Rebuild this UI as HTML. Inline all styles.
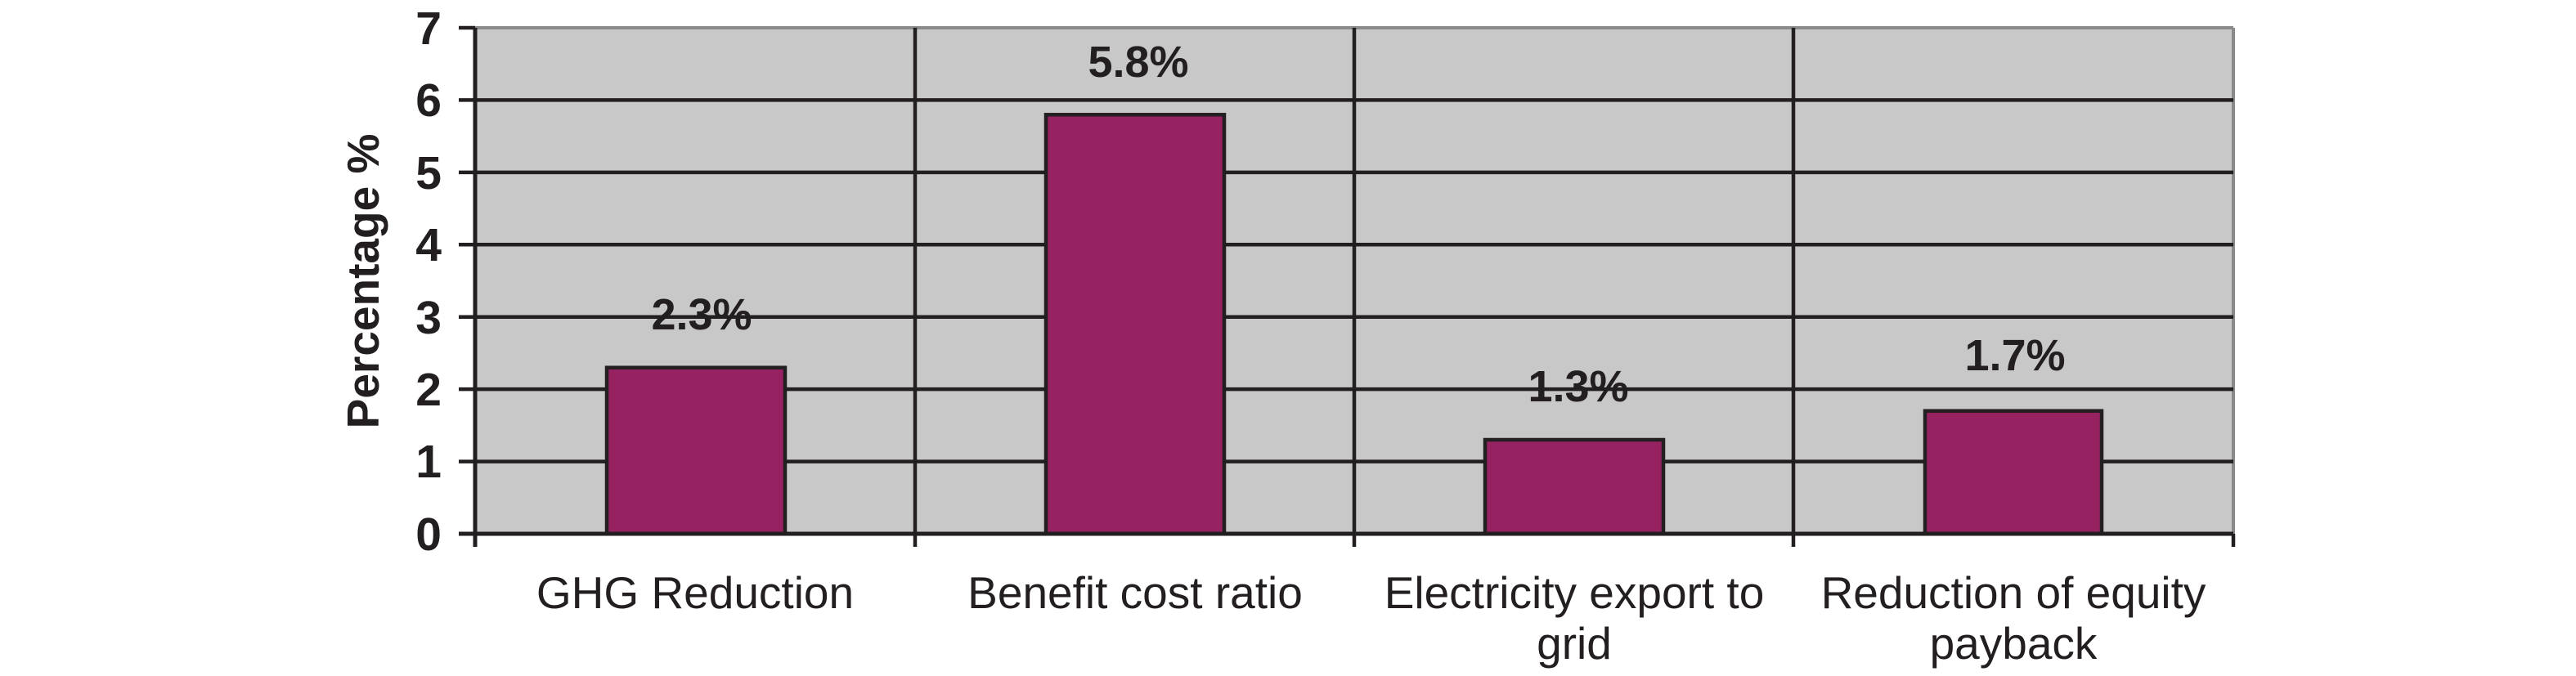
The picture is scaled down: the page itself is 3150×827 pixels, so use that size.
<!DOCTYPE html>
<html><head><meta charset="utf-8"><style>html,body{margin:0;padding:0;background:#fff;}svg{display:block}</style></head>
<body>
<svg width="3150" height="827" viewBox="0 0 3150 827" xmlns="http://www.w3.org/2000/svg" font-family="Liberation Sans, Arial, sans-serif">
<rect x="581" y="34" width="2150" height="619" fill="#c8c8c8"/>
<line x1="581" y1="34" x2="2731" y2="34" stroke="#8a8a8a" stroke-width="4"/>
<line x1="2731" y1="34" x2="2731" y2="653" stroke="#8a8a8a" stroke-width="4"/>
<g stroke="#231f20" stroke-width="4.5">
<line x1="561" y1="122.4" x2="2731" y2="122.4"/>
<line x1="561" y1="210.9" x2="2731" y2="210.9"/>
<line x1="561" y1="299.3" x2="2731" y2="299.3"/>
<line x1="561" y1="387.7" x2="2731" y2="387.7"/>
<line x1="561" y1="476.1" x2="2731" y2="476.1"/>
<line x1="561" y1="564.6" x2="2731" y2="564.6"/>
<line x1="561" y1="34" x2="581" y2="34"/>
<line x1="1119" y1="34" x2="1119" y2="669"/>
<line x1="1656" y1="34" x2="1656" y2="669"/>
<line x1="2193" y1="34" x2="2193" y2="669"/>
<line x1="2731" y1="653" x2="2731" y2="669"/>
</g>
<g fill="#962262" stroke="#231f20" stroke-width="4.5">
<rect x="742" y="449.7" width="218" height="203.3"/>
<rect x="1279" y="140.3" width="218" height="512.7"/>
<rect x="1816" y="538" width="218" height="115"/>
<rect x="2354" y="502.7" width="216" height="150.3"/>
</g>
<g stroke="#231f20" stroke-width="5">
<line x1="581" y1="34" x2="581" y2="669"/>
<line x1="561" y1="653" x2="2731" y2="653"/>
</g>
<g font-weight="bold" font-size="57" fill="#231f20" text-anchor="end">
<text x="540" y="54">7</text><text x="540" y="142">6</text><text x="540" y="231">5</text>
<text x="540" y="319">4</text><text x="540" y="408">3</text><text x="540" y="496">2</text>
<text x="540" y="584">1</text><text x="540" y="673">0</text>
</g>
<text transform="translate(463,344) rotate(-90)" text-anchor="middle" font-weight="bold" font-size="55" fill="#231f20">Percentage %</text>
<g font-weight="bold" font-size="54" fill="#231f20" text-anchor="middle">
<text x="858" y="403">2.3%</text>
<text x="1392" y="94">5.8%</text>
<text x="1930" y="491">1.3%</text>
<text x="2464" y="453">1.7%</text>
</g>
<g font-size="55" fill="#231f20" text-anchor="middle">
<text x="850" y="744">GHG Reduction</text>
<text x="1388" y="744">Benefit cost ratio</text>
<text x="1925" y="744">Electricity export to</text>
<text x="1925" y="806">grid</text>
<text x="2462" y="744">Reduction of equity</text>
<text x="2462" y="806">payback</text>
</g>
</svg>
</body></html>
